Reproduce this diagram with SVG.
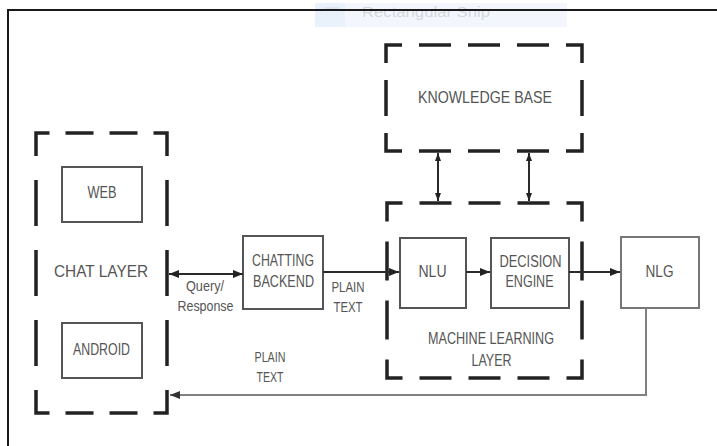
<svg xmlns="http://www.w3.org/2000/svg" width="717" height="446" viewBox="0 0 717 446">
<style>
text{font-family:"Liberation Sans",Arial,sans-serif;fill:#555;text-anchor:middle}
.box{fill:#fff;stroke:#555;stroke-width:2}
.nlg{fill:#fff;stroke:#777;stroke-width:2}
.dash{fill:none;stroke:#222;stroke-width:3.5;stroke-linejoin:miter}
.con{fill:none;stroke:#2a2a2a;stroke-width:2}
.ret{fill:none;stroke:#808080;stroke-width:2}
.l{font-size:17px}
.m{font-size:16px}
.s{font-size:14px}
</style>
<defs>
<marker id="ah" viewBox="0 0 10 8" refX="10" refY="4" markerWidth="10" markerHeight="8" markerUnits="userSpaceOnUse" orient="auto-start-reverse"><path d="M0 0 L10 4 L0 8 Z" fill="#222"/></marker>
<marker id="as" viewBox="0 0 8 6" refX="8" refY="3" markerWidth="8" markerHeight="6" markerUnits="userSpaceOnUse" orient="auto-start-reverse"><path d="M0 0 L8 3 L0 6 Z" fill="#222"/></marker>
<marker id="ag" viewBox="0 0 10 8" refX="10" refY="4" markerWidth="10" markerHeight="8" markerUnits="userSpaceOnUse" orient="auto-start-reverse"><path d="M0 0 L10 4 L0 8 Z" fill="#333"/></marker>
</defs>
<rect x="0" y="0" width="717" height="446" fill="#fff"/>
<g id="snip">
<rect x="315" y="3" width="252" height="24" fill="#f3f7fd"/>
<rect x="315" y="3" width="30" height="24" fill="#e9f1fb"/>
<rect x="325" y="7" width="14" height="3" fill="#dfe5ee"/>
<text x="426" y="17" style="font-size:14px;fill:#d3d8e0" textLength="128" lengthAdjust="spacingAndGlyphs">Rectangular Snip</text>
</g>
<g id="frame">
<path d="M7 10 H717 M8 10 V446" fill="none" stroke="#1a1a1a" stroke-width="2"/>
</g>
<g id="chat-layer">
<path class="dash" d="M49.5 133 H167 V413 H36 V133 Z" stroke-dasharray="0 16 28 16 28 16 36.5 24 46 24 46 24 46 24 36.5 16 28 16 28 16 36.5 24 46 24 46 24 46 24 36.5"/>
<text class="l" x="101" y="277" textLength="94" lengthAdjust="spacingAndGlyphs">CHAT LAYER</text>
</g>
<g id="web">
<rect class="box" x="62" y="167" width="80" height="55"/>
<text class="m" x="102" y="198" textLength="29" lengthAdjust="spacingAndGlyphs">WEB</text>
</g>
<g id="android">
<rect class="box" x="62" y="323" width="80" height="55"/>
<text class="m" x="101.5" y="355" textLength="57" lengthAdjust="spacingAndGlyphs">ANDROID</text>
</g>
<g id="chatting-backend">
<rect class="box" x="243" y="236" width="80" height="73"/>
<text class="m" x="283" y="266" textLength="62" lengthAdjust="spacingAndGlyphs">CHATTING</text>
<text class="m" x="283.5" y="287" textLength="61" lengthAdjust="spacingAndGlyphs">BACKEND</text>
</g>
<g id="knowledge-base">
<path class="dash" d="M402 45 H582 V151 H386 V45 Z" stroke-dasharray="0 17 32 17 32 17 32 17 34 17 36 17 34 17 32 17 32 17 32 17 34 17 36 17 34"/>
<text class="l" x="485" y="103" textLength="134" lengthAdjust="spacingAndGlyphs">KNOWLEDGE BASE</text>
</g>
<g id="machine-learning-layer">
<path class="dash" d="M402.5 203 H582 V378 H387 V203 Z" stroke-dasharray="0 17 32 17 32 17 32 17 34 20 39 20 39 20 34 17 32 17 32 17 32 17 34 20 39 20 39 20 34"/>
<text class="m" x="491" y="344" textLength="126" lengthAdjust="spacingAndGlyphs">MACHINE LEARNING</text>
<text class="m" x="491.5" y="366" textLength="40" lengthAdjust="spacingAndGlyphs">LAYER</text>
</g>
<g id="nlu">
<rect class="box" x="400" y="238" width="66" height="70"/>
<text class="m" x="432.5" y="277" textLength="28" lengthAdjust="spacingAndGlyphs">NLU</text>
</g>
<g id="decision-engine">
<rect class="box" x="491" y="238" width="78" height="70"/>
<text class="m" x="530.5" y="267" textLength="62" lengthAdjust="spacingAndGlyphs">DECISION</text>
<text class="m" x="529.5" y="287" textLength="48" lengthAdjust="spacingAndGlyphs">ENGINE</text>
</g>
<g id="nlg">
<rect class="nlg" x="621" y="237" width="78" height="71"/>
<text class="m" x="659.5" y="277" textLength="28" lengthAdjust="spacingAndGlyphs">NLG</text>
</g>
<g id="connectors">
<line class="con" x1="169" y1="274" x2="243" y2="274" marker-start="url(#ah)" marker-end="url(#ah)"/>
<line class="con" x1="323" y1="272" x2="399" y2="272" marker-end="url(#ah)"/>
<line class="con" x1="466" y1="272" x2="490" y2="272" marker-end="url(#ah)"/>
<line class="con" x1="569" y1="272" x2="620" y2="272" marker-end="url(#ah)"/>
<line class="con" x1="438" y1="153" x2="438" y2="201" stroke-width="1.5" marker-start="url(#as)" marker-end="url(#as)"/>
<line class="con" x1="529" y1="153" x2="529" y2="201" stroke-width="1.5" marker-start="url(#as)" marker-end="url(#as)"/>
<polyline class="ret" points="646,308 646,395 170,395" marker-end="url(#ag)"/>
<text class="s" x="205" y="291" textLength="38" lengthAdjust="spacingAndGlyphs">Query/</text>
<text class="s" x="205.5" y="311" textLength="56" lengthAdjust="spacingAndGlyphs">Response</text>
<text class="s" x="348" y="292" textLength="33" lengthAdjust="spacingAndGlyphs">PLAIN</text>
<text class="s" x="348" y="312" textLength="29" lengthAdjust="spacingAndGlyphs">TEXT</text>
<text class="s" x="270" y="362" textLength="31" lengthAdjust="spacingAndGlyphs">PLAIN</text>
<text class="s" x="270" y="382" textLength="27" lengthAdjust="spacingAndGlyphs">TEXT</text>
</g>
</svg>
